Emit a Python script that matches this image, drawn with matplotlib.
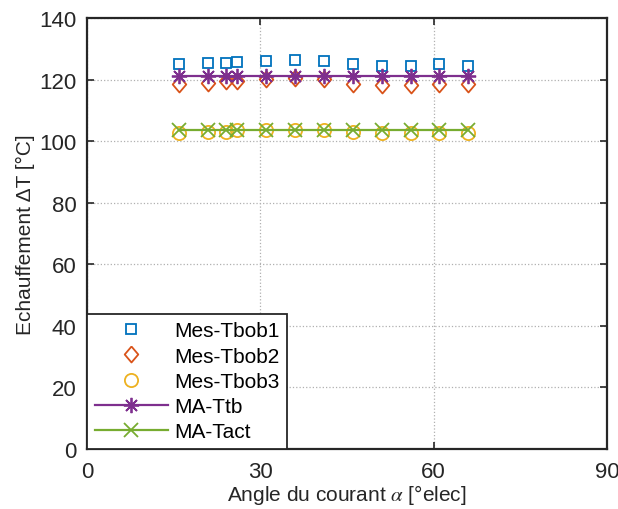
import numpy as np
import matplotlib
matplotlib.use("Agg")
import matplotlib.pyplot as plt

# ------------------------------------------------------------
# Data
# ------------------------------------------------------------

alpha_deg = [16, 21, 24, 26, 31, 36, 41, 46, 51, 56, 61, 66]

mes_tbob1 = [125.0, 125.5, 125.4, 125.8, 125.9, 126.5, 125.9, 124.9, 124.4, 124.4, 124.9, 124.4]
mes_tbob2 = [118.4, 118.9, 119.6, 119.6, 120.3, 120.5, 120.1, 118.5, 118.1, 118.3, 118.6, 118.5]
mes_tbob3 = [102.6, 103.0, 103.0, 103.5, 103.6, 103.6, 103.6, 103.0, 102.7, 102.5, 102.8, 102.5]
ma_ttb = [121.0, 121.0, 121.0, 121.0, 121.0, 121.0, 121.0, 121.0, 121.0, 121.0, 121.0, 121.0]
ma_tact = [103.7, 103.7, 103.7, 103.7, 103.7, 103.7, 103.7, 103.7, 103.7, 103.7, 103.7, 103.7]

labels = ["Mes-Tbob1", "Mes-Tbob2", "Mes-Tbob3", "MA-Ttb", "MA-Tact"]

x_ticks = [0, 30, 60, 90]
y_ticks = [0, 20, 40, 60, 80, 100, 120, 140]

# MATLAB default colour order
c_blue = "#0072BD"
c_orange = "#D95319"
c_yellow = "#EDB120"
c_purple = "#7E2F8E"
c_green = "#77AC30"
c_axis = "#262626"

# ------------------------------------------------------------
# Style
# ------------------------------------------------------------

plt.rcParams["font.family"] = ["Liberation Sans", "DejaVu Sans"]
plt.rcParams["mathtext.fontset"] = "stix"
plt.rcParams["font.size"] = 15

diamond = [(0, 1), (0.85, 0), (0, -1), (-0.85, 0), (0, 1)]

fig = plt.figure(figsize=(6.18, 5.10), dpi=100)
ax = fig.add_axes([87 / 618, 60 / 510, 520 / 618, 431 / 510])

# ------------------------------------------------------------
# Plot
# ------------------------------------------------------------

ax.plot(alpha_deg, mes_tbob1, linestyle="none", marker="s", markersize=7.7,
        markerfacecolor="none", markeredgecolor=c_blue, markeredgewidth=1.3,
        label=labels[0])
ax.plot(alpha_deg, mes_tbob2, linestyle="none", marker=diamond, markersize=11.5,
        markerfacecolor="none", markeredgecolor=c_orange, markeredgewidth=1.3,
        label=labels[1])
ax.plot(alpha_deg, mes_tbob3, linestyle="none", marker="o", markersize=9.5,
        markerfacecolor="none", markeredgecolor=c_yellow, markeredgewidth=1.3,
        label=labels[2])
ax.plot(alpha_deg, ma_ttb, color=c_purple, linewidth=1.6, marker=(8, 2, 0),
        markersize=11, markeredgewidth=1.3, label=labels[3])
ax.plot(alpha_deg, ma_tact, color=c_green, linewidth=1.6, marker="x",
        markersize=9.5, markeredgewidth=1.3, label=labels[4])

ax.set_xlim(0, 90)
ax.set_ylim(0, 140)
ax.set_xticks(x_ticks)
ax.set_yticks(y_ticks)

ax.grid(True, linestyle=":", color="#b0b0b0", linewidth=0.9)
ax.set_axisbelow(True)

ax.tick_params(direction="in", length=5, width=1.2, colors=c_axis,
               top=True, right=True, labelsize=16)
ax.tick_params(axis="x", pad=9)
ax.tick_params(axis="y", pad=7.5)
for sp in ax.spines.values():
    sp.set_linewidth(1.6)
    sp.set_color(c_axis)

ax.set_xlabel(r"Angle du courant $\alpha$ [°elec]", fontsize=15,
              color=c_axis, labelpad=0)
ax.set_ylabel("Echauffement ΔT [°C]", fontsize=15, color=c_axis, labelpad=3)

leg = ax.legend(loc="lower left", bbox_to_anchor=(0, 0), borderaxespad=0,
                fancybox=False, framealpha=1, edgecolor=c_axis, fontsize=15,
                handlelength=3.5, handletextpad=0.3, labelspacing=0.3,
                borderpad=0.37)
leg.get_frame().set_linewidth(1.3)

plt.savefig("out.png", dpi=100)
